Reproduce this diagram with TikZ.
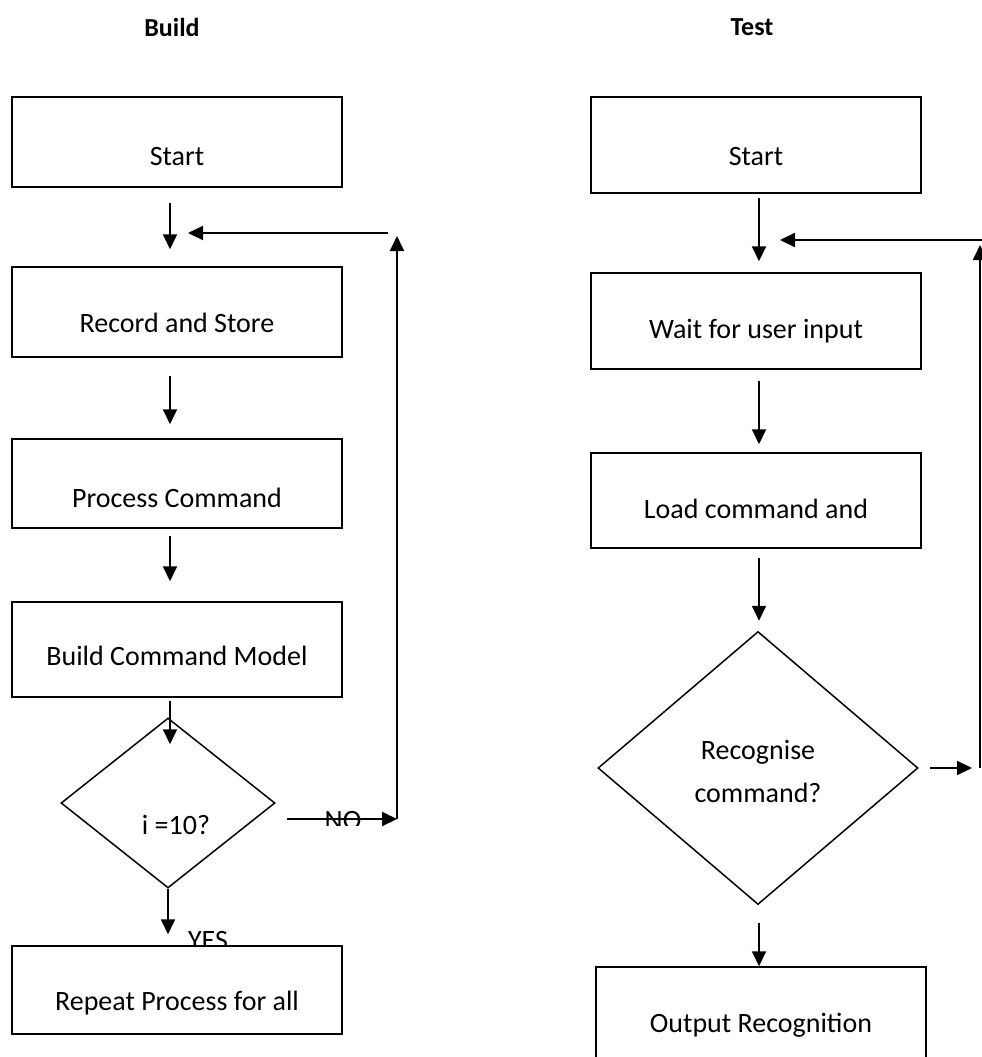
\documentclass[tikz,border=0pt]{standalone}
\usepackage{fontspec}
\setmainfont{Carlito}
\usetikzlibrary{arrows.meta,shapes.geometric}

\tikzset{
  base/.style={font=\fontsize{28}{32}\selectfont},
  % #1 = how far the baseline sits below the box centre (times two)
  stepbox/.style={base, draw, line width=1.5pt, fill=white, inner sep=0pt,
    minimum width=330pt, text height=#1, text depth=0pt},
  decision/.style={diamond, draw, line width=1.5pt, fill=white, inner sep=0pt},
  title/.style={font=\fontsize{26}{30}\selectfont\bfseries},
  flow/.style={line width=1.9pt, -{Triangle[length=15pt,width=14pt]}},
}

\begin{document}
\begin{tikzpicture}[x=1pt,y=-1pt]
\useasboundingbox (0,0) rectangle (982,1057);

% column titles
\node[title] (tBuild) at (172,27) {Build};
\node[title] (tTest)  at (752,27) {Test};

% ---------------- Build flow ----------------
\coordinate (xL) at (170,0);
\node[stepbox=46pt, minimum height=90pt] (startL) at (177,142)   {Start};
\node[stepbox=40pt, minimum height=90pt] (recL)   at (177,312)   {Record and Store};
\node[stepbox=47pt, minimum height=89pt] (procL)  at (177,483.5) {Process Command};
\node[stepbox=31pt, minimum height=95pt] (buildL) at (177,649.5) {Build Command Model};
\node[decision, minimum width=214pt, minimum height=170pt] (decL) at (168,803) {};
\node[base, anchor=base] (decLtxt) at (176,834) {i =10?};

% YES label sits partly behind the box below it
\node[base, anchor=base] (yes) at (208,949) {YES};
\node[stepbox=40pt, minimum height=88pt] (repL) at (177,990) {Repeat Process for all};

\draw[flow, shorten <=15pt, shorten >=17pt] (startL.south -| xL) -- (recL.north -| xL);
\draw[flow, shorten <=18pt, shorten >=14pt] (recL.south -| xL) -- (procL.north -| xL);
\draw[flow, shorten <=7pt,  shorten >=20pt] (procL.south -| xL) -- (buildL.north -| xL);
\draw[flow, shorten <=3pt,  shorten >=-27pt] (buildL.south -| xL) -- (decL.north -| xL);
\draw[flow, shorten >=11pt] (decL.south) -- (repL.north -| decL.south);

% loop back on NO
\coordinate (noEnd)   at (397,819);
\coordinate (loopTop) at (397,236);
\coordinate (loopL1)  at (388,233);
\coordinate (loopL2)  at (188,233);
\begin{scope}
  \clip (300,800) rectangle (390,825);
  \node[base, anchor=base] (no) at (343,829) {NO};
\end{scope}
\draw[flow, shorten <=11pt] (decL.east |- noEnd) -- (noEnd);
\draw[flow] (noEnd) -- (loopTop);
\draw[flow] (loopL1) -- (loopL2);

% ---------------- Test flow ----------------
\coordinate (xR) at (759,0);
\node[stepbox=40pt, minimum height=96pt] (startR) at (756,145)   {Start};
\node[stepbox=34pt, minimum height=96pt] (waitR)  at (756,321)   {Wait for user input};
\node[stepbox=35pt, minimum height=95pt] (loadR)  at (756,500.5) {Load command and};
\node[decision, minimum width=320pt, minimum height=273pt] (decR) at (758,768) {};
\node[base, anchor=base] (decRtxt1) at (758,759) {Recognise};
\node[base, anchor=base] (decRtxt2) at (758,802) {command?};
\node[stepbox=32pt, minimum height=98pt] (outR) at (761,1016) {Output Recognition};

\draw[flow, shorten <=4pt,  shorten >=11pt] (startR.south -| xR) -- (waitR.north -| xR);
\draw[flow, shorten <=11pt, shorten >=8pt]  (waitR.south -| xR) -- (loadR.north -| xR);
\draw[flow, shorten <=9pt,  shorten >=10pt] (loadR.south -| xR) -- (decR.north -| xR);
\draw[flow, shorten <=18pt] (decR.south -| xR) -- (outR.north -| xR);

% loop back when the command is not recognised
\coordinate (rEnd)     at (972,768);
\coordinate (rLoopBot) at (980,768);
\coordinate (rLoopTop) at (980,245);
\coordinate (rTopR)    at (990,240);
\coordinate (rTopL)    at (780,240);
\draw[flow, shorten <=11pt] (decR.east) -- (rEnd);
\draw[flow] (rLoopBot) -- (rLoopTop);
\draw[flow] (rTopR) -- (rTopL);
\end{tikzpicture}
\end{document}
